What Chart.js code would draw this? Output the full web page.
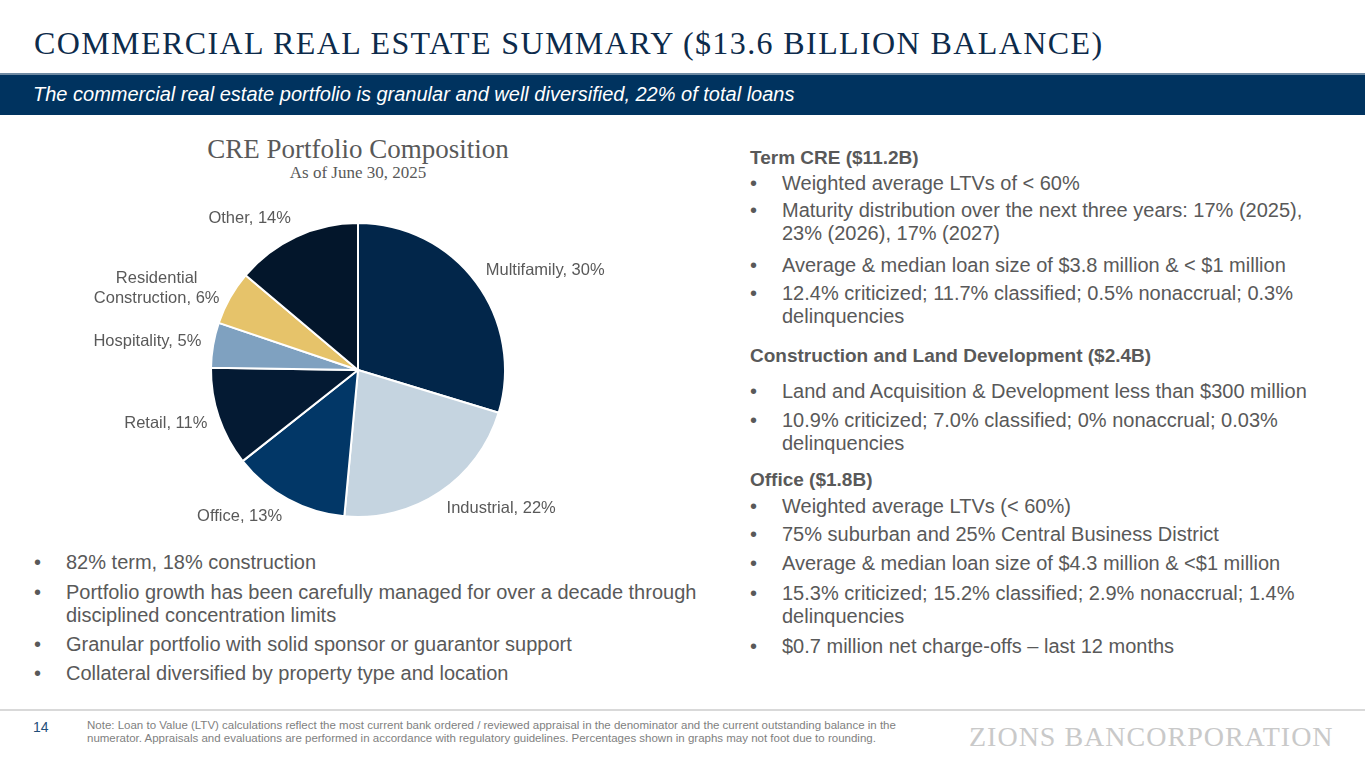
<!DOCTYPE html>
<html>
<head>
<meta charset="utf-8">
<script src="https://cdn.jsdelivr.net/npm/chart.js@4.4.1/dist/chart.umd.min.js"></script>
<style>
  html,body{margin:0;padding:0;background:#fff;}
  body{width:1365px;height:768px;position:relative;overflow:hidden;font-family:"Liberation Sans",Arial,sans-serif;}
  .abs{position:absolute;}
  #title{left:34px;top:25px;font-family:"Liberation Serif","DejaVu Serif",serif;font-size:32px;color:#0d2b4b;letter-spacing:1.4px;white-space:nowrap;}
  #bandline{left:0;top:73px;width:1365px;height:2px;background:#6f8aa3;}
  #band{left:0;top:75px;width:1365px;height:40px;background:#00335f;}
  #sub{left:33px;top:83px;color:#fff;font-style:italic;font-size:20px;white-space:nowrap;}
  #ctitle{left:58px;width:600px;top:136px;height:26px;line-height:26px;text-align:center;font-family:"Liberation Serif",serif;font-size:27px;color:#595959;}
  #cdate{left:58px;width:600px;top:164px;height:18px;line-height:18px;text-align:center;font-family:"Liberation Serif",serif;font-size:17px;color:#595959;}
  #chartbox{left:58px;top:200px;width:600px;height:340px;}
  .txt{color:#595959;font-size:20px;line-height:23px;}
  .row{position:absolute;white-space:nowrap;}
  .b{position:absolute;left:0;}
  .t{position:absolute;left:32px;}
  .h{font-weight:bold;font-size:19px;}
  #foot{left:0;top:709px;width:1365px;height:2px;background:#d9d9d9;}
  #pg{left:33px;top:719px;font-size:14px;color:#1f4e79;}
  #note{left:87px;top:719px;font-size:11.5px;line-height:13px;color:#7f7f7f;white-space:nowrap;}
  #logo{left:969px;top:721px;font-family:"Liberation Serif",serif;font-size:28px;color:#c9c9c9;letter-spacing:1px;white-space:nowrap;}
</style>
</head>
<body>
<div id="title" class="abs">COMMERCIAL REAL ESTATE SUMMARY ($13.6 BILLION BALANCE)</div>
<div id="bandline" class="abs"></div>
<div id="band" class="abs"></div>
<div id="sub" class="abs">The commercial real estate portfolio is granular and well diversified, 22% of total loans</div>
<div id="ctitle" class="abs">CRE Portfolio Composition</div>
<div id="cdate" class="abs">As of June 30, 2025</div>
<div id="chartbox" class="abs"><canvas id="c"></canvas></div>

<div class="abs txt" style="left:34px;top:0;">
  <div class="row" style="top:551px;"><span class="b">•</span><span class="t">82% term, 18% construction</span></div>
  <div class="row" style="top:581px;"><span class="b">•</span><span class="t">Portfolio growth has been carefully managed for over a decade through<br>disciplined concentration limits</span></div>
  <div class="row" style="top:633px;"><span class="b">•</span><span class="t">Granular portfolio with solid sponsor or guarantor support</span></div>
  <div class="row" style="top:662px;"><span class="b">•</span><span class="t">Collateral diversified by property type and location</span></div>
</div>

<div class="abs txt" style="left:750px;top:0;">
  <div class="row h" style="top:146px;left:0;">Term CRE ($11.2B)</div>
  <div class="row" style="top:172px;"><span class="b">•</span><span class="t">Weighted average LTVs of &lt; 60%</span></div>
  <div class="row" style="top:199px;"><span class="b">•</span><span class="t">Maturity distribution over the next three years: 17% (2025),<br>23% (2026), 17% (2027)</span></div>
  <div class="row" style="top:254px;"><span class="b">•</span><span class="t">Average &amp; median loan size of $3.8 million &amp; &lt; $1 million</span></div>
  <div class="row" style="top:282px;"><span class="b">•</span><span class="t">12.4% criticized; 11.7% classified; 0.5% nonaccrual; 0.3%<br>delinquencies</span></div>
  <div class="row h" style="top:344px;left:0;">Construction and Land Development ($2.4B)</div>
  <div class="row" style="top:380px;"><span class="b">•</span><span class="t">Land and Acquisition &amp; Development less than $300 million</span></div>
  <div class="row" style="top:409px;"><span class="b">•</span><span class="t">10.9% criticized; 7.0% classified; 0% nonaccrual; 0.03%<br>delinquencies</span></div>
  <div class="row h" style="top:468px;left:0;">Office ($1.8B)</div>
  <div class="row" style="top:495px;"><span class="b">•</span><span class="t">Weighted average LTVs (&lt; 60%)</span></div>
  <div class="row" style="top:523px;"><span class="b">•</span><span class="t">75% suburban and 25% Central Business District</span></div>
  <div class="row" style="top:552px;"><span class="b">•</span><span class="t">Average &amp; median loan size of $4.3 million &amp; &lt;$1 million</span></div>
  <div class="row" style="top:582px;"><span class="b">•</span><span class="t">15.3% criticized; 15.2% classified; 2.9% nonaccrual; 1.4%<br>delinquencies</span></div>
  <div class="row" style="top:635px;"><span class="b">•</span><span class="t">$0.7 million net charge-offs – last 12 months</span></div>
</div>

<div id="foot" class="abs"></div>
<div id="pg" class="abs">14</div>
<div id="note" class="abs">Note: Loan to Value (LTV) calculations reflect the most current bank ordered / reviewed appraisal in the denominator and the current outstanding balance in the<br>numerator. Appraisals and evaluations are performed in accordance with regulatory guidelines. Percentages shown in graphs may not foot due to rounding.</div>
<div id="logo" class="abs">ZIONS BANCORPORATION</div>

<script>
const categories = ["Multifamily", "Industrial", "Office", "Retail", "Hospitality", "Residential Construction", "Other"];
const labelLines = [["Multifamily, 30%"], ["Industrial, 22%"], ["Office, 13%"], ["Retail, 11%"], ["Hospitality, 5%"], ["Residential", "Construction, 6%"], ["Other, 14%"]];
const shares = [30, 22, 13, 11, 5, 6, 14];
const colors = ["#02264a", "#c5d4e0", "#023767", "#041a33", "#7fa1c0", "#e6c36a", "#03162b"];

const outsideLabels = {
  id: 'outsideLabels',
  afterDatasetsDraw(chart) {
    const ctx = chart.ctx;
    const meta = chart.getDatasetMeta(0);
    ctx.save();
    ctx.font = '16.5px "Liberation Sans", Arial, sans-serif';
    ctx.fillStyle = '#595959';
    ctx.textBaseline = 'middle';
    meta.data.forEach((arc, i) => {
      const p = arc.getProps(['x','y','startAngle','endAngle','outerRadius'], true);
      const mid = (p.startAngle + p.endAngle) / 2;
      const lx = p.x + Math.cos(mid) * (p.outerRadius + 12);
      const ly = p.y + Math.sin(mid) * (p.outerRadius + 20);
      const lines = labelLines[i];
      const right = lx >= p.x;
      const widths = lines.map(l => ctx.measureText(l).width);
      const maxW = Math.max(...widths);
      const lh = 20;
      const top = ly - (lines.length - 1) * lh / 2;
      lines.forEach((l, k) => {
        const blockLeft = right ? lx : lx - maxW;
        const x = blockLeft + (maxW - widths[k]) / 2;
        ctx.textAlign = 'left';
        ctx.fillText(l, x, top + k * lh);
      });
    });
    ctx.restore();
  }
};

new Chart(document.getElementById('c'), {
  type: 'pie',
  data: {
    labels: categories,
    datasets: [{
      data: shares,
      backgroundColor: colors,
      borderColor: '#ffffff',
      borderWidth: 2
    }]
  },
  options: {
    responsive: true,
    maintainAspectRatio: false,
    animation: false,
    layout: { padding: { top: 22, bottom: 22, left: 0, right: 0 } },
    plugins: { legend: { display: false }, tooltip: { enabled: false } }
  },
  plugins: [outsideLabels]
});
</script>
</body>
</html>
